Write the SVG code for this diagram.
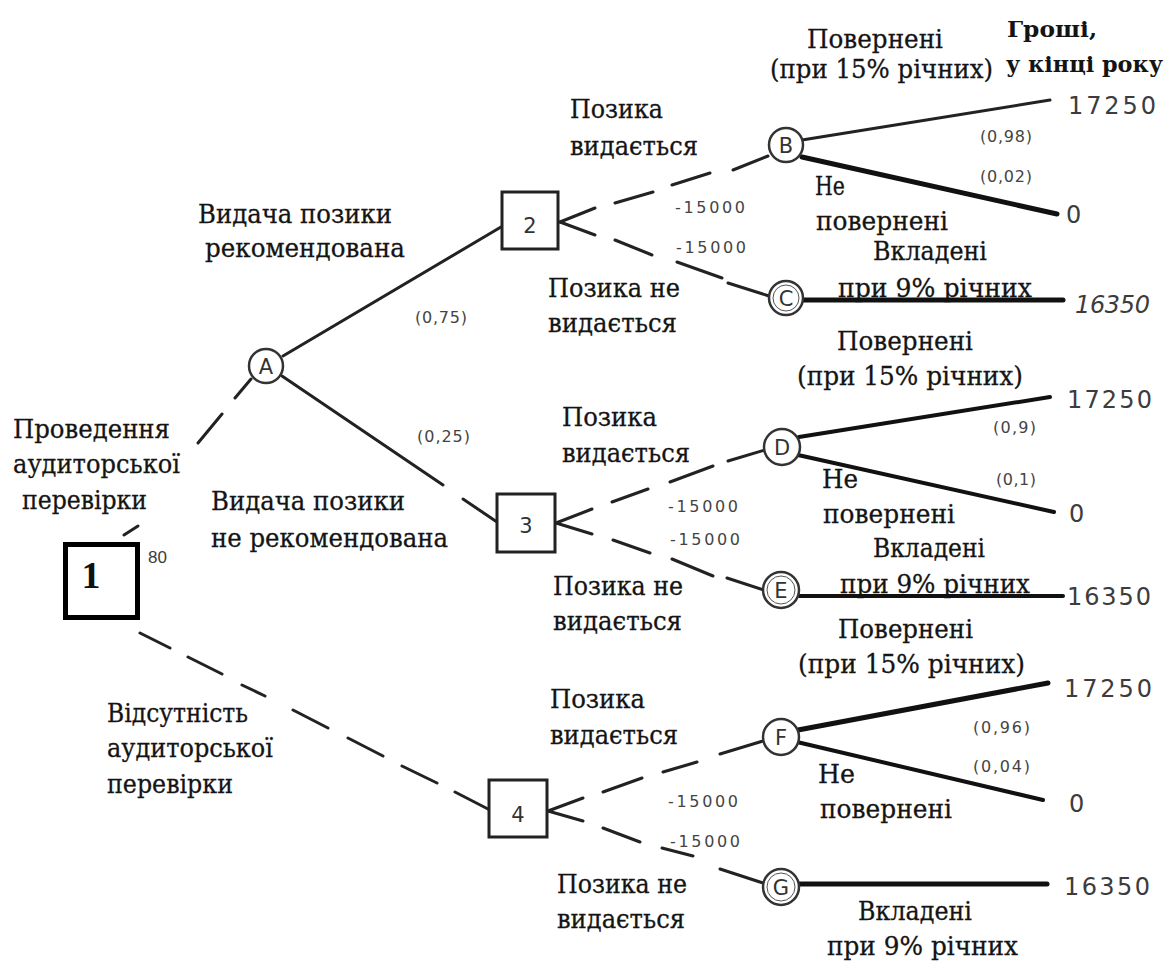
<svg xmlns="http://www.w3.org/2000/svg" width="1172" height="963" viewBox="0 0 1172 963">
<style>
.t{font-size:26px;fill:#141414;stroke:#141414;stroke-width:0.3}
.tb{font-size:22px;font-weight:bold;fill:#141414}
.n{font-size:24px;fill:#3c3c3c}
.p{font-size:16px;fill:#444}
.s{font-size:17px;fill:#3c3c3c}
.lt{font-size:21px;fill:#333;text-anchor:middle}
.bx{fill:#fff;stroke:#222;stroke-width:3}
.ci{fill:#fff;stroke:#333;stroke-width:2.5}
.ln{fill:none;stroke:#222;stroke-width:3;stroke-linecap:round}
.th{fill:none;stroke:#111;stroke-width:5;stroke-linecap:round}
.md{fill:none;stroke:#111;stroke-width:4;stroke-linecap:round}
</style>
<rect width="1172" height="963" fill="#fff"/>
<g id="labels">
<g font-family="'DejaVu Serif', serif">
<text class="t" x="13" y="438" textLength="157" lengthAdjust="spacingAndGlyphs">Проведення</text>
<text class="t" x="13" y="473" textLength="167" lengthAdjust="spacingAndGlyphs">аудиторської</text>
<text class="t" x="22" y="509" textLength="125" lengthAdjust="spacingAndGlyphs">перевірки</text>
<text class="t" x="198" y="223" textLength="194" lengthAdjust="spacingAndGlyphs">Видача позики</text>
<text class="t" x="205" y="257" textLength="200" lengthAdjust="spacingAndGlyphs">рекомендована</text>
<text class="t" x="211" y="510" textLength="194" lengthAdjust="spacingAndGlyphs">Видача позики</text>
<text class="t" x="211" y="547" textLength="237" lengthAdjust="spacingAndGlyphs">не рекомендована</text>
<text class="t" x="107" y="722" textLength="141" lengthAdjust="spacingAndGlyphs">Відсутність</text>
<text class="t" x="107" y="757" textLength="166" lengthAdjust="spacingAndGlyphs">аудиторської</text>
<text class="t" x="107" y="793" textLength="126" lengthAdjust="spacingAndGlyphs">перевірки</text>
<text class="t" x="570" y="118" textLength="93" lengthAdjust="spacingAndGlyphs">Позика</text>
<text class="t" x="570" y="155" textLength="128" lengthAdjust="spacingAndGlyphs">видається</text>
<text class="t" x="548" y="297" textLength="132" lengthAdjust="spacingAndGlyphs">Позика не</text>
<text class="t" x="548" y="332" textLength="129" lengthAdjust="spacingAndGlyphs">видається</text>
<text class="t" x="562" y="426" textLength="95" lengthAdjust="spacingAndGlyphs">Позика</text>
<text class="t" x="562" y="462" textLength="128" lengthAdjust="spacingAndGlyphs">видається</text>
<text class="t" x="553" y="595" textLength="130" lengthAdjust="spacingAndGlyphs">Позика не</text>
<text class="t" x="553" y="630" textLength="129" lengthAdjust="spacingAndGlyphs">видається</text>
<text class="t" x="550" y="708" textLength="95" lengthAdjust="spacingAndGlyphs">Позика</text>
<text class="t" x="550" y="744" textLength="128" lengthAdjust="spacingAndGlyphs">видається</text>
<text class="t" x="557" y="893" textLength="130" lengthAdjust="spacingAndGlyphs">Позика не</text>
<text class="t" x="557" y="928" textLength="128" lengthAdjust="spacingAndGlyphs">видається</text>
<text class="t" x="807" y="48" textLength="136" lengthAdjust="spacingAndGlyphs">Повернені</text>
<text class="t" x="770" y="78" textLength="223" lengthAdjust="spacingAndGlyphs">(при 15% річних)</text>
<text class="tb" x="1007" y="37" textLength="90" lengthAdjust="spacingAndGlyphs">Гроші,</text>
<text class="tb" x="1006" y="72" textLength="157" lengthAdjust="spacingAndGlyphs">у кінці року</text>
<text class="t" x="815" y="195" textLength="30" lengthAdjust="spacingAndGlyphs">Не</text>
<text class="t" x="816" y="230" textLength="132" lengthAdjust="spacingAndGlyphs">повернені</text>
<text class="t" x="873" y="260" textLength="114" lengthAdjust="spacingAndGlyphs">Вкладені</text>
<text class="t" x="838" y="297" textLength="194" lengthAdjust="spacingAndGlyphs">при 9% річних</text>
<text class="t" x="837" y="350" textLength="136" lengthAdjust="spacingAndGlyphs">Повернені</text>
<text class="t" x="797" y="385" textLength="226" lengthAdjust="spacingAndGlyphs">(при 15% річних)</text>
<text class="t" x="822" y="488" textLength="36" lengthAdjust="spacingAndGlyphs">Не</text>
<text class="t" x="823" y="523" textLength="132" lengthAdjust="spacingAndGlyphs">повернені</text>
<text class="t" x="873" y="557" textLength="112" lengthAdjust="spacingAndGlyphs">Вкладені</text>
<text class="t" x="840" y="593" textLength="190" lengthAdjust="spacingAndGlyphs">при 9% річних</text>
<text class="t" x="838" y="638" textLength="135" lengthAdjust="spacingAndGlyphs">Повернені</text>
<text class="t" x="798" y="673" textLength="227" lengthAdjust="spacingAndGlyphs">(при 15% річних)</text>
<text class="t" x="818" y="783" textLength="37" lengthAdjust="spacingAndGlyphs">Не</text>
<text class="t" x="820" y="818" textLength="132" lengthAdjust="spacingAndGlyphs">повернені</text>
<text class="t" x="858" y="920" textLength="114" lengthAdjust="spacingAndGlyphs">Вкладені</text>
<text class="t" x="827" y="955" textLength="191" lengthAdjust="spacingAndGlyphs">при 9% річних</text>
</g>
<g font-family="'DejaVu Sans', 'Liberation Sans', sans-serif">
<text class="n" x="1068" y="114" textLength="88">17250</text>
<text class="n" x="1066" y="223">0</text>
<text class="n" x="1075" y="313" textLength="75" font-style="italic">16350</text>
<text class="n" x="1067" y="408" textLength="85">17250</text>
<text class="n" x="1069" y="522">0</text>
<text class="n" x="1067" y="605" textLength="84">16350</text>
<text class="n" x="1064" y="697" textLength="88">17250</text>
<text class="n" x="1069" y="812">0</text>
<text class="n" x="1064" y="895" textLength="86">16350</text>
<text class="p" x="415" y="323" textLength="52">(0,75)</text>
<text class="p" x="417" y="442" textLength="53">(0,25)</text>
<text class="p" x="980" y="142" textLength="52">(0,98)</text>
<text class="p" x="980" y="182" textLength="52">(0,02)</text>
<text class="p" x="993" y="433" textLength="43">(0,9)</text>
<text class="p" x="996" y="485" textLength="40">(0,1)</text>
<text class="p" x="973" y="733" textLength="57">(0,96)</text>
<text class="p" x="973" y="772" textLength="57">(0,04)</text>
<text class="p" x="675" y="213" textLength="70">-15000</text>
<text class="p" x="676" y="253" textLength="70">-15000</text>
<text class="p" x="668" y="512" textLength="70">-15000</text>
<text class="p" x="670" y="545" textLength="70">-15000</text>
<text class="p" x="668" y="807" textLength="70">-15000</text>
<text class="p" x="670" y="847" textLength="70">-15000</text>
</g>
<text class="s" x="148" y="563" font-family="'Liberation Sans', Arial, sans-serif">80</text>
</g>
<g id="connectors">
<path id="e-1-A" class="ln" d="M124,535 L138,526 M198,443 L222,414 M235,398 L251,379"/>
<path id="e-1-4" class="ln" d="M140,633 L170,648 M188,657 L222,674 M242,685 L265,696 M293,710 L328,728 M348,738 L383,756 M402,766 L437,783 M455,792 L488,809"/>
<path id="e-A-2" class="ln" d="M283,356 L501,227"/>
<path id="e-A-3" class="ln" d="M282,376 L443,485 M463,499 L497,522"/>
<path id="e-2-B" class="ln" d="M560,222 L595,208 M615,203 L653,192 M672,185 L710,173 M733,170 L768,156"/>
<path id="e-2-C" class="ln" d="M560,222 L595,235 M615,240 L652,255 M677,262 L722,278 M728,283 L769,296"/>
<path id="e-3-D" class="ln" d="M556,523 L592,509 M612,502 L648,489 M670,482 L713,466 M728,461 L765,450"/>
<path id="e-3-E" class="ln" d="M556,523 L592,534 M613,540 L650,553 M672,559 L713,576 M727,578 L764,590"/>
<path id="e-4-F" class="ln" d="M548,811 L583,798 M603,792 L642,778 M663,772 L697,762 M720,754 L763,741"/>
<path id="e-4-G" class="ln" d="M548,811 L583,821 M603,828 L640,842 M662,848 L693,856 M720,869 L763,883"/>
<path id="e-B-1" class="ln" d="M802,140 L1050,100"/>
<path id="e-B-2" class="th" d="M802,157 L1057,214"/>
<path id="e-C" class="th" d="M804,300 L1063,300"/>
<path id="e-D-1" class="md" d="M799,437 L1050,397"/>
<path id="e-D-2" class="md" d="M798,455 L1054,512"/>
<path id="e-E" class="md" d="M799,596 L1063,596"/>
<path id="e-F-1" class="th" d="M798,730 L1048,683"/>
<path id="e-F-2" class="md" d="M797,742 L1043,800"/>
<path id="e-G" class="th" d="M798,884 L1047,884"/>
</g>
<g font-family="'DejaVu Sans', 'Liberation Sans', sans-serif">
<g id="node-1"><rect x="65.5" y="544.5" width="72" height="73" fill="#fff" stroke="#000" stroke-width="5"/><text x="91" y="588" text-anchor="middle" font-family="'Liberation Serif', serif" font-size="38" font-weight="bold" fill="#111">1</text></g>
<g id="node-A"><circle class="ci" cx="266" cy="366" r="17"/><text class="lt" x="266" y="374">A</text></g>
<g id="node-2"><rect class="bx" x="502" y="192" width="56" height="57"/><text class="lt" x="530" y="233" font-size="27">2</text></g>
<g id="node-3"><rect class="bx" x="497" y="494" width="58" height="58"/><text class="lt" x="526" y="533" font-size="27">3</text></g>
<g id="node-4"><rect class="bx" x="489" y="780" width="58" height="57"/><text class="lt" x="518" y="822" font-size="27">4</text></g>
<g id="node-B"><circle class="ci" cx="786" cy="145" r="17"/><text class="lt" x="786" y="153">B</text></g>
<g id="node-C"><circle class="ci" cx="786" cy="298" r="17"/><circle cx="786" cy="298" r="13" fill="none" stroke="#555" stroke-width="1"/><text class="lt" x="786" y="306">C</text></g>
<g id="node-D"><circle class="ci" cx="782" cy="447" r="18"/><text class="lt" x="782" y="455">D</text></g>
<g id="node-E"><circle class="ci" cx="781" cy="590" r="18"/><circle cx="781" cy="590" r="14" fill="none" stroke="#555" stroke-width="1"/><text class="lt" x="781" y="598">E</text></g>
<g id="node-F"><circle class="ci" cx="781" cy="737" r="18"/><text class="lt" x="781" y="745">F</text></g>
<g id="node-G"><circle class="ci" cx="781" cy="887" r="18"/><circle cx="781" cy="887" r="14" fill="none" stroke="#555" stroke-width="1"/><text class="lt" x="781" y="895">G</text></g>
</g>
</svg>
